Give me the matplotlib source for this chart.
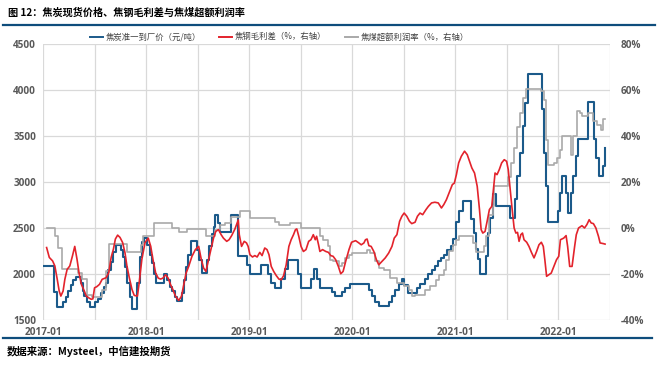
import matplotlib
matplotlib.use("Agg")
import matplotlib.pyplot as plt
from matplotlib.lines import Line2D
import numpy as np

plt.rcParams['font.family'] = ['Noto Sans CJK SC', 'DejaVu Sans']

# 焦炭准一到厂价（元/吨）: step changes, time in decimal years
coke_t = [2017.000, 2017.106, 2017.135, 2017.192, 2017.221, 2017.240, 2017.269, 2017.288, 2017.317,
          2017.365, 2017.385, 2017.394, 2017.423, 2017.452, 2017.500, 2017.529, 2017.567, 2017.596,
          2017.615, 2017.635, 2017.663, 2017.683, 2017.712, 2017.760, 2017.779, 2017.798, 2017.817,
          2017.846, 2017.865, 2017.913, 2017.942, 2017.962, 2017.981, 2018.010, 2018.038, 2018.058,
          2018.077, 2018.096, 2018.173, 2018.202, 2018.231, 2018.250, 2018.279, 2018.298, 2018.346,
          2018.365, 2018.385, 2018.404, 2018.433, 2018.490, 2018.510, 2018.538, 2018.587, 2018.615,
          2018.635, 2018.654, 2018.673, 2018.702, 2018.721, 2018.827, 2018.894, 2018.981, 2019.010,
          2019.115, 2019.183, 2019.212, 2019.250, 2019.308, 2019.346, 2019.375, 2019.471, 2019.500,
          2019.596, 2019.625, 2019.654, 2019.683, 2019.808, 2019.837, 2019.904, 2019.933, 2019.981,
          2020.163, 2020.192, 2020.221, 2020.260, 2020.356, 2020.385, 2020.413, 2020.452, 2020.481,
          2020.500, 2020.538, 2020.625, 2020.654, 2020.702, 2020.731, 2020.769, 2020.798, 2020.827,
          2020.865, 2020.894, 2020.923, 2020.962, 2020.981, 2021.010, 2021.038, 2021.077, 2021.154,
          2021.183, 2021.202, 2021.221, 2021.240, 2021.298, 2021.317, 2021.337, 2021.365, 2021.394,
          2021.529, 2021.577, 2021.596, 2021.625, 2021.654, 2021.673, 2021.702, 2021.837, 2021.856,
          2021.875, 2021.894, 2022.000, 2022.019, 2022.038, 2022.077, 2022.096, 2022.125, 2022.144,
          2022.173, 2022.192, 2022.288, 2022.346, 2022.365, 2022.394, 2022.433, 2022.452]
coke_price = [2090, 1800, 1640, 1700, 1750, 1820, 1880, 1935, 1965,
              1900, 1820, 1760, 1700, 1645, 1700, 1730, 1790, 1860,
              1900, 2040, 2130, 2240, 2315, 2260, 2190, 2080, 1900,
              1750, 1615, 1900, 2190, 2350, 2390, 2315, 2205, 2115,
              2005, 1900, 2005, 1935, 1860, 1810, 1755, 1705, 1790,
              1935, 2080, 2205, 2355, 2260, 2150, 2010, 2150, 2300,
              2440, 2515, 2640, 2550, 2460, 2640, 2200, 2100, 2000,
              2100, 2000, 1900, 1850, 1950, 2050, 2150, 2000, 1850,
              1950, 2050, 1950, 1850, 1800, 1760, 1800, 1850, 1890,
              1830, 1760, 1695, 1650, 1700, 1760, 1830, 1890, 1945,
              1880, 1795, 1850, 1890, 1945, 1995, 2045, 2085, 2140,
              2175, 2210, 2265, 2300, 2380, 2560, 2685, 2795, 2595,
              2450, 2270, 2160, 2005, 2195, 2450, 2610, 2865, 2740,
              2610, 2810, 3065, 3320, 3610, 3860, 4170, 3790, 3320,
              2960, 2570, 2685, 2885, 3070, 2885, 2665, 2885, 3065,
              3285, 3470, 3870, 3465, 3265, 3070, 3175, 3370]

# 焦钢毛利差（%，右轴）
margin_t = [2017.035, 2017.061, 2017.093, 2017.115, 2017.138, 2017.157, 2017.173, 2017.195, 2017.212,
            2017.234, 2017.260, 2017.286, 2017.308, 2017.330, 2017.349, 2017.372, 2017.394, 2017.420,
            2017.445, 2017.468, 2017.484, 2017.500, 2017.522, 2017.548, 2017.574, 2017.613, 2017.638,
            2017.661, 2017.683, 2017.702, 2017.724, 2017.747, 2017.772, 2017.795, 2017.814, 2017.837,
            2017.863, 2017.885, 2017.916, 2017.933, 2017.959, 2017.990, 2018.021, 2018.045, 2018.067,
            2018.093, 2018.118, 2018.141, 2018.163, 2018.189, 2018.214, 2018.238, 2018.260, 2018.286,
            2018.317, 2018.343, 2018.365, 2018.388, 2018.413, 2018.445, 2018.478, 2018.510, 2018.536,
            2018.558, 2018.580, 2018.606, 2018.632, 2018.654, 2018.676, 2018.702, 2018.728, 2018.750,
            2018.782, 2018.805, 2018.830, 2018.862, 2018.894, 2018.904, 2018.926, 2018.952, 2018.974,
            2018.990, 2019.007, 2019.032, 2019.055, 2019.077, 2019.103, 2019.125, 2019.151, 2019.173,
            2019.192, 2019.214, 2019.238, 2019.263, 2019.288, 2019.311, 2019.334, 2019.359, 2019.385,
            2019.407, 2019.430, 2019.449, 2019.462, 2019.481, 2019.503, 2019.526, 2019.551, 2019.577,
            2019.599, 2019.622, 2019.641, 2019.654, 2019.673, 2019.686, 2019.712, 2019.743, 2019.769,
            2019.791, 2019.814, 2019.839, 2019.865, 2019.888, 2019.911, 2019.936, 2019.968, 2019.993,
            2020.032, 2020.064, 2020.087, 2020.113, 2020.128, 2020.144, 2020.161, 2020.183, 2020.209,
            2020.234, 2020.257, 2020.288, 2020.320, 2020.353, 2020.385, 2020.407, 2020.433, 2020.459,
            2020.481, 2020.503, 2020.529, 2020.555, 2020.577, 2020.609, 2020.632, 2020.657, 2020.683,
            2020.715, 2020.738, 2020.769, 2020.801, 2020.834, 2020.865, 2020.888, 2020.913, 2020.945,
            2020.971, 2020.990, 2021.010, 2021.032, 2021.058, 2021.089, 2021.115, 2021.137, 2021.160,
            2021.186, 2021.212, 2021.234, 2021.250, 2021.266, 2021.288, 2021.308, 2021.330, 2021.353,
            2021.372, 2021.385, 2021.404, 2021.426, 2021.449, 2021.474, 2021.497, 2021.513, 2021.532,
            2021.548, 2021.570, 2021.587, 2021.603, 2021.618, 2021.635, 2021.651, 2021.666, 2021.692,
            2021.714, 2021.738, 2021.763, 2021.788, 2021.811, 2021.834, 2021.853, 2021.868, 2021.885,
            2021.907, 2021.930, 2021.955, 2021.981, 2022.003, 2022.019, 2022.051, 2022.074, 2022.089,
            2022.109, 2022.132, 2022.157, 2022.173, 2022.195, 2022.228, 2022.253, 2022.276, 2022.298,
            2022.317, 2022.339, 2022.363, 2022.388, 2022.404, 2022.436, 2022.452]
margin_pct = [-8.5, -12.8, -14.3, -16.5, -22.3, -27.4, -29.6, -27.4, -22.3,
              -18.0, -16.5, -12.1, -8.0, -13.6, -19.4, -24.5, -26.7, -29.6,
              -30.4, -31.0, -30.8, -26.0, -25.5, -24.5, -22.3, -21.6, -19.4,
              -12.8, -9.2, -4.8, -3.1, -4.1, -6.3, -10.7, -16.5, -21.6,
              -26.7, -29.3, -29.6, -23.8, -13.6, -6.3, -4.4, -8.0, -13.8,
              -19.6, -21.8, -22.2, -21.8, -20.3, -21.8, -24.7, -26.8, -29.7,
              -31.5, -29.7, -24.7, -19.6, -16.7, -12.3, -9.4, -8.0, -13.8,
              -17.4, -18.9, -13.8, -8.7, -4.4, -1.5, -0.7, -2.9, -4.4,
              -5.8, -5.1, -3.3, -0.4, 3.5, -2.9, -8.0, -5.8, -6.5,
              -8.0, -11.6, -12.6, -12.0, -12.6, -10.6, -12.0, -8.7, -9.4,
              -11.6, -16.7, -18.9, -20.7, -22.2, -22.5, -20.7, -16.0, -8.0,
              -5.1, -2.9, -0.7, -0.4, -3.6, -8.0, -10.2, -9.4, -5.8,
              -5.1, -2.9, -5.1, -3.6, -7.3, -10.2, -9.4, -10.2, -10.6,
              -12.0, -12.3, -13.8, -16.7, -19.9, -18.9, -14.5, -9.4, -6.2,
              -5.5, -6.5, -7.3, -6.5, -5.1, -4.8, -7.7, -8.0, -10.2,
              -13.8, -16.0, -14.5, -13.0, -10.9, -8.0, -4.4, -2.9, 2.9,
              5.1, 6.5, 5.1, 2.9, 1.9, 2.5, 5.1, 6.5, 5.8,
              8.0, 9.4, 10.9, 11.2, 10.9, 8.7, 10.2, 12.3, 16.0,
              18.9, 19.5, 23.2, 28.3, 31.2, 33.4, 31.9, 29.0, 26.1,
              23.9, 18.1, 8.0, -0.7, -2.2, -1.5, 2.9, 8.0, 9.4,
              18.1, 23.9, 23.2, 25.4, 28.3, 29.7, 29.0, 25.4, 16.7,
              9.4, 0.0, -2.2, -1.9, -5.8, -2.9, -2.2, -5.1, -6.2,
              -8.0, -10.6, -13.0, -10.2, -7.3, -6.2, -8.0, -13.8, -21.0,
              -20.3, -19.6, -16.7, -13.8, -12.3, -5.1, -4.4, -3.3, -8.0,
              -16.7, -16.7, -8.0, -2.9, 0.0, 1.0, 0.0, 1.5, 3.6,
              2.2, 1.9, 0.0, -3.6, -6.5, -6.8, -7.0]

# 焦煤超额利润率（%，右轴）: step changes
coal_t = [2017.035, 2017.115, 2017.144, 2017.183, 2017.337, 2017.375, 2017.423, 2017.471, 2017.577,
          2017.615, 2017.644, 2017.817, 2017.952, 2017.971, 2018.077, 2018.250, 2018.317, 2018.394,
          2018.577, 2018.673, 2018.721, 2018.769, 2018.827, 2018.913, 2019.010, 2019.250, 2019.288,
          2019.394, 2019.500, 2019.683, 2019.712, 2019.760, 2019.788, 2019.817, 2019.875, 2019.904,
          2019.933, 2019.971, 2020.000, 2020.144, 2020.173, 2020.221, 2020.260, 2020.308, 2020.365,
          2020.433, 2020.500, 2020.548, 2020.577, 2020.606, 2020.702, 2020.750, 2020.817, 2020.846,
          2020.885, 2020.913, 2020.942, 2020.981, 2021.010, 2021.038, 2021.173, 2021.202, 2021.279,
          2021.298, 2021.327, 2021.365, 2021.375, 2021.510, 2021.538, 2021.567, 2021.596, 2021.625,
          2021.654, 2021.683, 2021.827, 2021.856, 2021.875, 2021.894, 2021.952, 2021.990, 2022.019,
          2022.038, 2022.125, 2022.144, 2022.183, 2022.212, 2022.231, 2022.288, 2022.337, 2022.375,
          2022.413, 2022.433, 2022.452]
coal_pct = [0.0, -3.6, -8.7, -17.8, -19.6, -22.2, -29.0, -30.2, -26.8,
            -18.9, -7.0, -10.4, -7.3, -3.6, 2.2, 0.0, -1.9, -0.4,
            -3.3, -0.7, 1.5, 2.2, 5.0, 7.2, 4.3, 2.4, 1.5,
            2.2, 0.0, -3.6, -5.0, -8.0, -13.8, -14.5, -16.7, -15.2,
            -13.0, -11.6, -10.9, -9.4, -10.9, -14.5, -17.4, -18.1, -21.8,
            -23.9, -25.1, -26.8, -29.7, -29.0, -26.8, -25.4, -22.5, -20.3,
            -18.1, -13.8, -10.2, -7.3, -5.0, -3.6, -6.5, -10.4, -8.0,
            -3.6, 5.5, 9.4, 18.1, 22.3, 28.3, 34.8, 44.0, 50.0,
            56.5, 60.5, 59.5, 55.5, 38.4, 27.3, 28.3, 30.5, 34.1,
            40.2, 31.7, 40.0, 50.8, 50.0, 48.6, 50.0, 46.4, 45.0,
            42.8, 47.4, 47.4]

years = [2017, 2018, 2019, 2020, 2021, 2022]
year_labels = ['2017-01', '2018-01', '2019-01', '2020-01', '2021-01', '2022-01']

BLUE = '#1B5A8A'
RED = '#E3232C'
GRAY = '#A9A9A9'
TICK = '#595959'
RULE = '#0E4D7C'

fig = plt.figure(figsize=(6.59, 3.66), dpi=100)
ax = fig.add_axes([43 / 659, 46 / 366, 567 / 659, 276 / 366])
ax2 = ax.twinx()

ax.plot(coke_t, coke_price, color=BLUE, lw=1.5, drawstyle='steps-post')
ax2.plot(coal_t, coal_pct, color=GRAY, lw=1.2, drawstyle='steps-post')
ax2.plot(margin_t, margin_pct, color=RED, lw=1.2)

ax.set_xlim(2017.0, 2022.452)
ax.set_ylim(1500, 4500)
ax2.set_ylim(-40, 80)
ax.set_yticks(np.arange(1500, 4501, 500))
ax2.set_yticks(np.arange(-40, 81, 20))
ax2.set_yticklabels([f'{v}%' for v in range(-40, 81, 20)])
ax.set_xticks(years)
ax.set_xticklabels(year_labels)
ax.set_xticks([y + 0.5 for y in years], minor=True)

ax.grid(True, which='both', axis='x', color='#D9D9D9', lw=0.9)
ax.grid(True, which='major', axis='y', color='#D9D9D9', lw=0.9)
ax.set_axisbelow(True)
for a in (ax, ax2):
    for s in a.spines.values():
        s.set_visible(False)
ax.tick_params(which='both', length=0)
ax2.tick_params(length=0)
ax.tick_params(axis='y', pad=5, labelsize=7.2, labelcolor=TICK)
ax.tick_params(axis='x', pad=5, labelsize=7.2, labelcolor=TICK)
ax2.tick_params(axis='y', pad=8, labelsize=7.2, labelcolor=TICK)
for lab in ax.get_xticklabels() + ax.get_yticklabels() + ax2.get_yticklabels():
    lab.set_fontweight('bold')
    lab.set_family(['Open Sans', 'DejaVu Sans'])

handles = [Line2D([], [], color=BLUE, lw=1.4),
           Line2D([], [], color=RED, lw=1.4),
           Line2D([], [], color=GRAY, lw=1.4)]
labels = ['焦炭准一到厂价（元/吨）', '焦钢毛利差（%，右轴）', '焦煤超额利润率（%，右轴）']
fig.legend(handles, labels, loc='center left', bbox_to_anchor=(82 / 659, 1 - 37 / 366),
           ncol=3, frameon=False, fontsize=6, handlelength=1.6, handletextpad=0.3,
           columnspacing=2.2, labelcolor='#404040')

fig.text(8 / 659, 1 - 13 / 366, '图 12：焦炭现货价格、焦钢毛利差与焦煤超额利润率',
         fontsize=7.3, fontweight='bold', va='center', ha='left')
fig.add_artist(Line2D([3 / 659, 655 / 659], [1 - 24.5 / 366] * 2, color=RULE, lw=1.6))
fig.add_artist(Line2D([3 / 659, 652 / 659], [1 - 338 / 366] * 2, color=RULE, lw=1.6))
fig.text(7 / 659, 1 - 351 / 366, '数据来源：Mysteel，中信建投期货',
         fontsize=7.5, fontweight='bold', style='italic', va='center', ha='left')

fig.savefig('out.png', dpi=100)
